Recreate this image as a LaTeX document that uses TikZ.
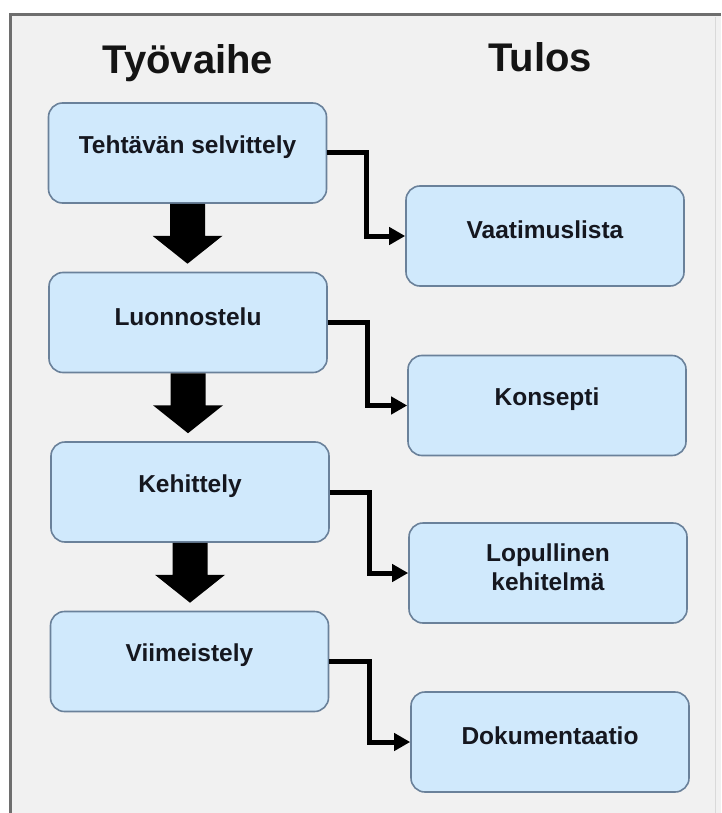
\documentclass[tikz,border=0pt]{standalone}
\usepackage{fontspec}
\setmainfont{Liberation Sans}
\usetikzlibrary{calc,arrows.meta}
\definecolor{bgc}{HTML}{F1F1F1}
\definecolor{framec}{HTML}{6E6E6E}
\definecolor{boxfill}{HTML}{D0E9FC}
\definecolor{boxdraw}{HTML}{6A819A}
\definecolor{txt}{HTML}{15171F}
\newcommand\blockarr[2]{%
  \fill[black] ($(#1.south)+(-17.5,0)$) -- ($(#1.south)+(17.5,0)$) -- ($(#1.south)+(17.5,32)$)
    -- ($(#1.south)+(35,32)$) -- ($(#1.south |- #2.north)+(0,-8)$)
    -- ($(#1.south)+(-35,32)$) -- ($(#1.south)+(-17.5,32)$) -- cycle;}
\begin{document}
\begin{tikzpicture}[x=1pt,y=-1pt,
  box/.style={draw=boxdraw, fill=boxfill, line width=1.6pt, rounded corners=14pt,
    minimum width=278pt, minimum height=100pt, inner sep=0pt},
  boxtext/.style={font=\fontsize{24.5}{29}\selectfont\bfseries, text=txt, align=center, yshift=6pt},
  title/.style={font=\fontsize{40}{44}\selectfont\bfseries, text=black!92, anchor=base},
  conn/.style={draw=black, line width=5pt, -{Triangle[length=16pt,width=17pt]}}]
\useasboundingbox (0,0) rectangle (721,813);
\fill[white] (0,0) rectangle (721,813);
\fill[bgc] (10,15) rectangle (721,813);
\draw[black!15, line width=1pt] (715,17) -- (715,813);
\draw[framec, line width=3pt] (10,813) -- (10,15) -- (721,15);

\node[title] (h1) at (188,74) {Työvaihe};
\node[title] (h2) at (540,72) {Tulos};

\node[box, label={[boxtext]center:Tehtävän selvittely}] (t1) at (187.5,153) {};
\node[box, label={[boxtext]center:Luonnostelu}] (t2) at (188,322.5) {};
\node[box, label={[boxtext]center:Kehittely}] (t3) at (190,492) {};
\node[box, label={[boxtext]center:Viimeistely}] (t4) at (189.5,661.5) {};

\node[box, label={[boxtext]center:Vaatimuslista}] (r1) at (545,236) {};
\node[box, label={[boxtext]center:Konsepti}] (r2) at (547,405.5) {};
\node[box, label={[boxtext]center:Lopullinen\\kehitelmä}] (r3) at (548,573) {};
\node[box, label={[boxtext]center:Dokumentaatio}] (r4) at (550,742) {};

\blockarr{t1}{t2}
\blockarr{t2}{t3}
\blockarr{t3}{t4}

\draw[conn] (t1.east) -| ($(t1.east)!0.5!(r1.west)$) |- (r1.west);
\draw[conn] (t2.east) -| ($(t2.east)!0.5!(r2.west)$) |- (r2.west);
\draw[conn] (t3.east) -| ($(t3.east)!0.5!(r3.west)$) |- (r3.west);
\draw[conn] (t4.east) -| ($(t4.east)!0.5!(r4.west)$) |- (r4.west);
\end{tikzpicture}
\end{document}
